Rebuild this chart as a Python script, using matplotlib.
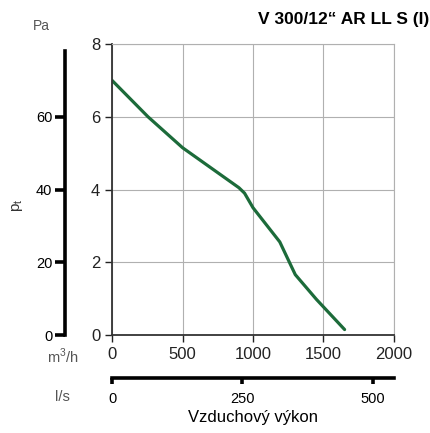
import matplotlib
matplotlib.use("Agg")
import matplotlib.pyplot as plt

plt.rcParams['font.family'] = ['Liberation Sans', 'DejaVu Sans']

# curve: airflow in m3/h, pressure in (Pa / 10)
flow = [0, 255, 500, 700, 900, 940, 1000, 1190, 1240, 1300, 1450, 1650]
press = [7.0, 6.0, 5.15, 4.6, 4.05, 3.9, 3.5, 2.56, 2.15, 1.66, 0.98, 0.15]

x_ticks = [0, 500, 1000, 1500, 2000]
y_ticks = [0, 2, 4, 6, 8]
pa_ticks = [0, 20, 40, 60]
ls_ticks = [0, 250, 500]

fig = plt.figure(figsize=(4.31, 4.33), dpi=100)
ax = fig.add_axes([0.26, 0.2263, 0.654, 0.672])

ax.plot(flow, press, color="#1c6b3a", lw=2.3, solid_capstyle="round")
ax.set_xlim(0, 2000)
ax.set_ylim(0, 8)
ax.set_xticks(x_ticks)
ax.set_yticks(y_ticks)
ax.grid(True, color="#b0b0b0", lw=0.8)
ax.tick_params(labelsize=12, colors="#222222", length=5, width=1, direction="out")
for s in ["top", "right"]:
    ax.spines[s].set_color("#b0b0b0")
    ax.spines[s].set_linewidth(0.8)
for s in ["left", "bottom"]:
    ax.spines[s].set_color("#333333")
    ax.spines[s].set_linewidth(1.3)

# outer Pa axis
pa = ax.secondary_yaxis(-0.167, functions=(lambda v: v * 10, lambda p: p / 10))
pa.set_yticks(pa_ticks)
pa.spines["left"].set_linewidth(2.6)
pa.spines["left"].set_color("black")
pa.spines["left"].set_bounds(0, 78)
pa.tick_params(axis="y", labelsize=10.5, length=7, width=2.6, pad=2, direction="out")

# l/s axis
ls = ax.secondary_xaxis(-0.148, functions=(lambda v: v / 3.7, lambda q: q * 3.7))
ls.set_xticks(ls_ticks)
ls.spines["bottom"].set_linewidth(2.6)
ls.tick_params(axis="x", labelsize=10.5, length=4, width=2.6, pad=6, direction="out")
ls.set_xlabel("Vzduchový výkon", fontsize=12, labelpad=3)

fig.text(0.995, 0.954, "V 300/12“ AR LL S (I)", ha="right", va="center",
         fontsize=12.5, fontweight="bold")
fig.text(0.095, 0.940, "Pa", ha="center", va="center", fontsize=10, color="#555555")
fig.text(0.04, 0.525, "p$_\\mathregular{t}$", ha="center", va="center", fontsize=11,
         rotation=90, color="#333333")
fig.text(0.145, 0.176, "m$^\\mathregular{3}$/h", ha="center", va="center", fontsize=10.5,
         color="#555555")
fig.text(0.145, 0.083, "l/s", ha="center", va="center", fontsize=10.5, color="#555555")

fig.savefig("out.png", dpi=100)
